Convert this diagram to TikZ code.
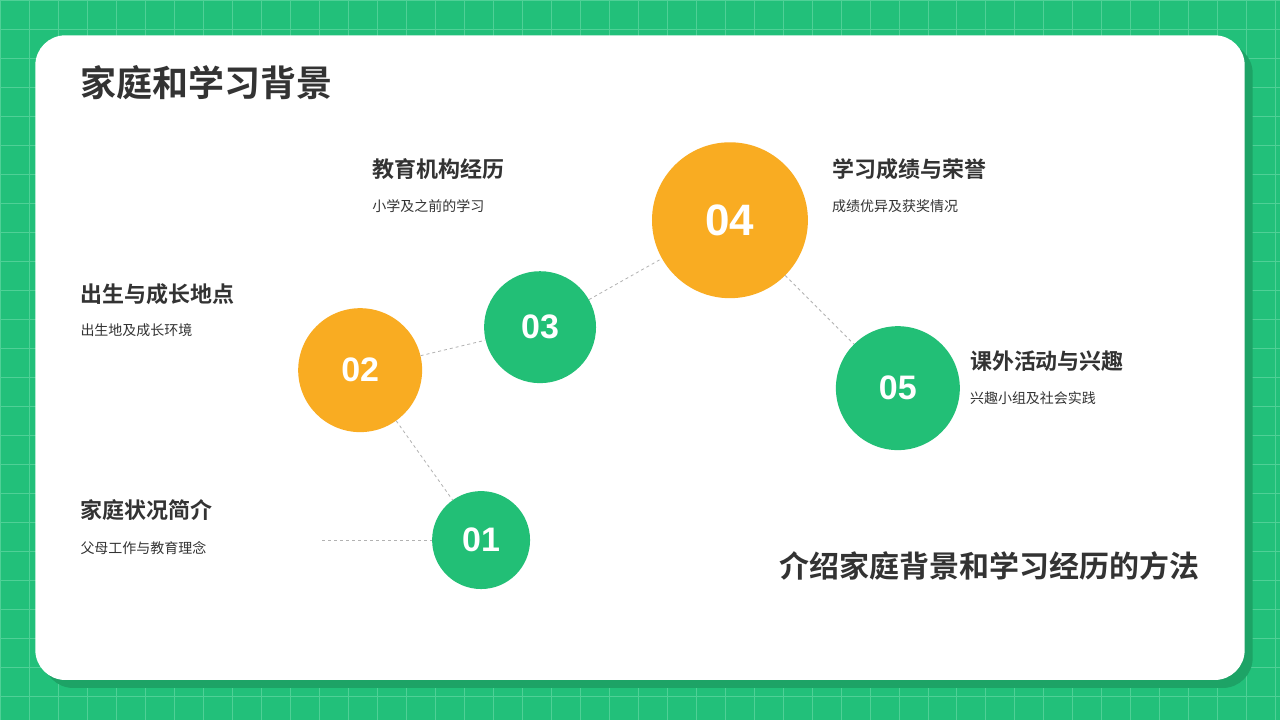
\documentclass[tikz,border=0pt]{standalone}
\usepackage{fontspec}
\setmainfont{Noto Sans CJK SC}
\newfontfamily\cjkb{Noto Sans CJK SC Bold}
\newfontfamily\numf{Liberation Sans}
\definecolor{bg}{HTML}{22C07A}
\definecolor{gridc}{HTML}{4FD096}
\definecolor{shad}{HTML}{1DA366}
\definecolor{gr}{HTML}{22BF76}
\definecolor{og}{HTML}{F9AC22}
\definecolor{tx}{HTML}{333333}
\begin{document}
\begin{tikzpicture}[x=1pt,y=-1pt,
  circ/.style={circle,inner sep=0pt,text=white,font=\numf\bfseries\fontsize{34}{34}\selectfont},
  conn/.style={draw=gray!60,dashed,line width=0.8pt},
  head/.style={anchor=west,text=tx,font=\cjkb\fontsize{22}{24}\selectfont,inner sep=0pt},
  sub/.style={anchor=west,text=tx,font=\fontsize{14}{16}\selectfont,inner sep=0pt}]
\fill[bg] (0,0) rectangle (1280,720);
\foreach \i in {0,29,...,1280} \draw[gridc,line width=0.7pt] (\i,0) -- (\i,720);
\foreach \i in {0,29,...,720} \draw[gridc,line width=0.7pt] (0,\i) -- (1280,\i);
\useasboundingbox (0,0) rectangle (1280,720);
\fill[shad,rounded corners=30pt] (43,43) rectangle (1253,688);
\fill[white,rounded corners=30pt] (35,35) rectangle (1245,680);
\node[anchor=west,text=tx,font=\cjkb\fontsize{36}{40}\selectfont,inner sep=0pt] (title) at (80,82) {家庭和学习背景};
\node[circ,fill=gr,minimum size=98pt] (c1) at (481,540) {01};
\node[circ,fill=og,minimum size=124pt] (c2) at (360,370) {02};
\node[circ,fill=gr,minimum size=112pt] (c3) at (540,327) {03};
\node[circ,fill=og,minimum size=156pt,font=\numf\bfseries\fontsize{44}{44}\selectfont] (c4) at (730,220) {04};
\node[circ,fill=gr,minimum size=124pt] (c5) at (898,388) {05};
\coordinate (l1) at (322,540);
\draw[conn] (l1) -- (c1);
\draw[conn] (c2) -- (c1);
\draw[conn] (c2) -- (c3);
\draw[conn] (c3) -- (c4);
\draw[conn] (c4) -- (c5);
\node[head] (h1) at (80,510) {家庭状况简介};
\node[sub] (s1) at (80,548) {父母工作与教育理念};
\node[head] (h2) at (80,294) {出生与成长地点};
\node[sub] (s2) at (80,330) {出生地及成长环境};
\node[head] (h3) at (372,169) {教育机构经历};
\node[sub] (s3) at (372,206) {小学及之前的学习};
\node[head] (h4) at (832,169) {学习成绩与荣誉};
\node[sub] (s4) at (832,206) {成绩优异及获奖情况};
\node[head] (h5) at (970,361) {课外活动与兴趣};
\node[sub] (s5) at (970,398) {兴趣小组及社会实践};
\node[anchor=east,text=tx,font=\cjkb\fontsize{30}{34}\selectfont,inner sep=0pt] (foot) at (1200,566) {介绍家庭背景和学习经历的方法};
\end{tikzpicture}
\end{document}
